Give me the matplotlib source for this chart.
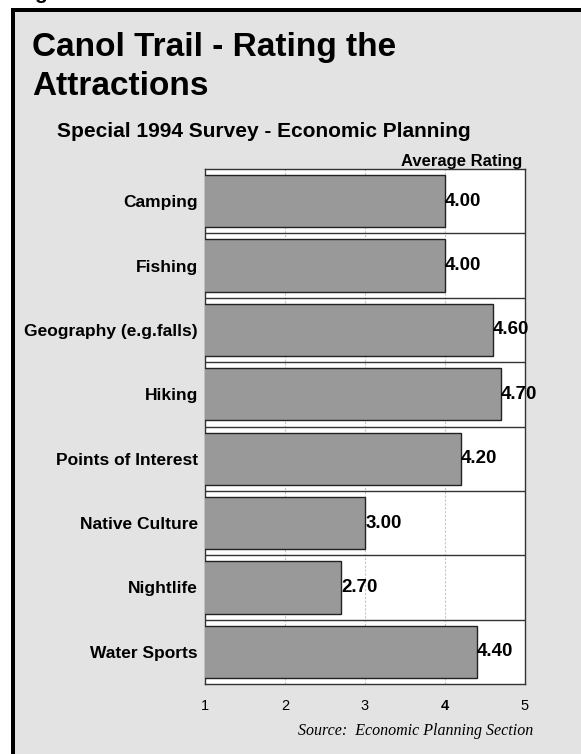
import matplotlib
matplotlib.use("Agg")
import matplotlib.pyplot as plt
from matplotlib.patches import Rectangle
from matplotlib import font_manager

categories = ["Camping", "Fishing", "Geography (e.g.falls)", "Hiking",
              "Points of Interest", "Native Culture", "Nightlife", "Water Sports"]
ratings = [4.00, 4.00, 4.60, 4.70, 4.20, 3.00, 2.70, 4.40]
tick_values = [1, 2, 3, 4, 5]
tick_labels = ["1", "2", "3", "4", "5"]

W, H = 581, 754
DPI = 100


def fx(px):
    return px / W


def fy(py):
    return 1 - py / H


available = {f.name for f in font_manager.fontManager.ttflist}
narrow = "Liberation Sans Narrow" if "Liberation Sans Narrow" in available else "Liberation Sans"
sans = ["Liberation Sans", "DejaVu Sans"]

fig = plt.figure(figsize=(W / DPI, H / DPI), dpi=DPI)
fig.patch.set_facecolor("white")

# outer panel with heavy black border (runs off the right and bottom edges)
panel = Rectangle((fx(13), fy(H + 20)), fx(W + 40), fy(10) - fy(H + 20),
                  transform=fig.transFigure, facecolor="#e3e3e3",
                  edgecolor="black", linewidth=4 * 72 / DPI, zorder=-5)
fig.patches.append(panel)

# descender of a line cut off at the top of the page
fig.text(fx(34), fy(-1), "g", fontsize=15, family=sans, fontweight="bold",
         va="baseline", ha="left")

# titles
fig.text(fx(32), fy(56), "Canol Trail - Rating the", fontsize=24,
         fontweight="bold", family=sans, va="baseline", ha="left")
fig.text(fx(32), fy(95), "Attractions", fontsize=24,
         fontweight="bold", family=sans, va="baseline", ha="left")
fig.text(fx(57), fy(137), "Special 1994 Survey - Economic Planning", fontsize=15,
         fontweight="bold", family=sans, va="baseline", ha="left")

# chart area
ax = fig.add_axes([fx(205), fy(684), fx(525) - fx(205), fy(169) - fy(684)])
ax.set_facecolor("white")
n = len(categories)
ypos = list(range(n))
ax.barh(ypos, ratings, height=0.81, color="#999999", edgecolor="#222222",
        linewidth=1.0, zorder=3)
ax.set_xlim(1, 5)
ax.set_ylim(n - 0.5, -0.5)

# category separators
for k in range(1, n):
    ax.axhline(k - 0.5, color="#333333", linewidth=1.0, zorder=4)

# vertical grid
for v in tick_values[1:-1]:
    ax.axvline(v, color="#c4c4c4", linewidth=0.8, linestyle=(0, (2, 1.5)), zorder=1)

# value labels
for yv, r in zip(ypos, ratings):
    ax.text(r + 0.003, yv, f"{r:.2f}", fontsize=13.5, fontweight="bold",
            family=sans, va="center", ha="left", zorder=5, clip_on=False)

ax.set_yticks(ypos)
ax.set_yticklabels(categories, fontsize=12.5, fontweight="bold", family=[narrow, "DejaVu Sans"])
ax.set_xticks(tick_values)
ax.set_xticklabels(tick_labels, fontsize=10.5, family=sans)
for lbl in ax.get_xticklabels():
    if lbl.get_text() == "4":
        lbl.set_fontweight("bold")
ax.tick_params(axis="x", length=0, pad=11)
ax.tick_params(axis="y", length=0, pad=5)
for s in ax.spines.values():
    s.set_color("#333333")
    s.set_linewidth(1.0)

fig.text(fx(522), fy(166), "Average Rating", fontsize=12, fontweight="bold",
         family=[narrow, "DejaVu Sans"], va="baseline", ha="right")

fig.text(fx(533), fy(735), "Source:  Economic Planning Section", fontsize=11.5,
         style="italic", family=["Liberation Serif", "DejaVu Serif"],
         va="baseline", ha="right")

fig.savefig("out.png", dpi=DPI)
